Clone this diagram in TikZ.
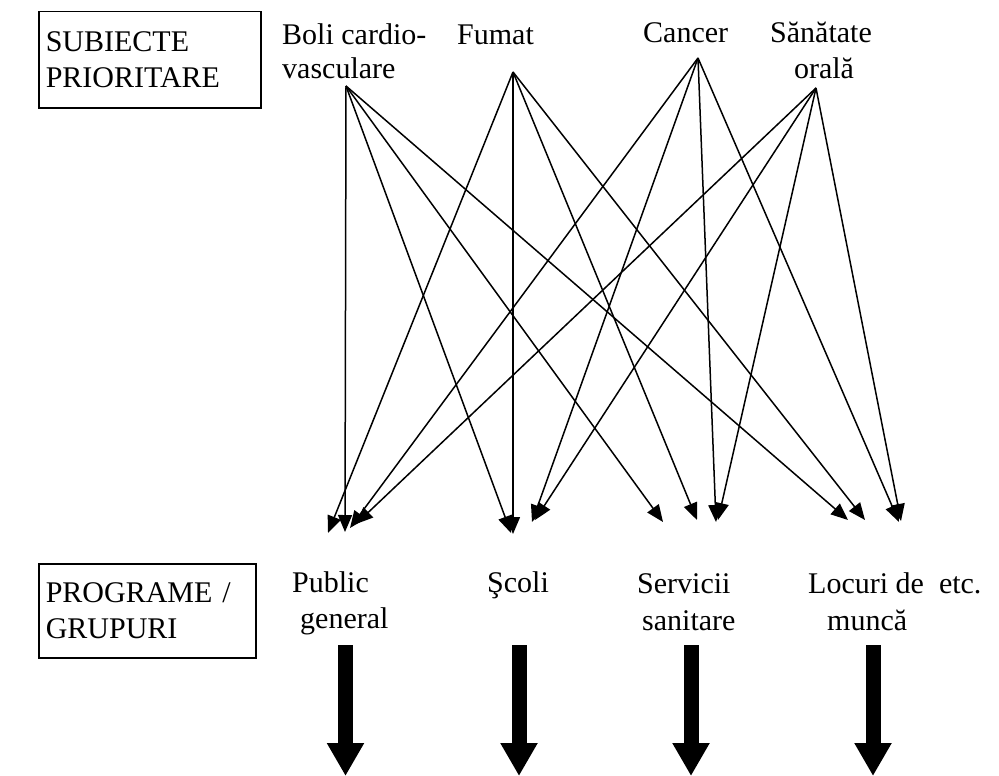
\documentclass[tikz,border=0pt]{standalone}
\usepackage{fontspec}
\setmainfont{Liberation Serif}
\usetikzlibrary{arrows.meta}
\begin{document}
\begin{tikzpicture}[x=1pt,y=-1pt,
  lbl/.style={inner sep=0pt, anchor=base west, font=\fontsize{30}{35}\selectfont},
  lblc/.style={inner sep=0pt, anchor=base, font=\fontsize{30}{35}\selectfont},
  frame/.style={draw, line width=1.5pt, anchor=north west, align=left,
    inner xsep=7pt, inner ysep=0pt, font=\fontsize{30}{36}\selectfont},
  link/.style={line width=1.5pt, -{Triangle[length=17pt,width=14pt]}},
  bigarrow/.style={line width=15pt, -{Triangle[length=33pt,width=35pt]}}]
\useasboundingbox (0,0) rectangle (999,776);

% headings on the left
\node[frame, minimum height=96pt, text width=208pt] (subj) at (38,11) {SUBIECTE\\PRIORITARE};
\node[frame, minimum height=94pt, text width=203pt] (prog) at (38,563) {PROGRAME /\\GRUPURI};

% priority topics
\node[lbl] (boli1) at (282,45) {Boli cardio-};
\node[lbl] (boli2) at (282,79) {vasculare};
\node[lbl] (fumat) at (457,45) {Fumat};
\node[lbl] (cancer) at (643,43) {Cancer};
\node[lblc] (san1) at (821,43) {Sănătate};
\node[lblc] (san2) at (824,78) {orală};

% programmes / groups
\node[lbl] (pub1) at (292,592) {Public};
\node[lbl] (pub2) at (300,628) {general};
\node[lbl] (scoli) at (487,592) {Şcoli};
\node[lbl] (serv1) at (637,593) {Servicii};
\node[lbl] (serv2) at (642,630) {sanitare};
\node[lbl] (loc1) at (808,593) {Locuri de\ \ etc.};
\node[lbl] (loc2) at (827,630) {muncă};

% where the links start
\coordinate (sB) at (346,86);
\coordinate (sF) at (513,72);
\coordinate (sC) at (698,58);
\coordinate (sS) at (816,88);

% where the links end
\coordinate (pubB) at (345,532);
\coordinate (pubF) at (328,533);
\coordinate (pubC) at (350,528);
\coordinate (pubS) at (356,524);
\coordinate (scoB) at (511,533);
\coordinate (scoF) at (513,534);
\coordinate (scoC) at (532,522);
\coordinate (scoS) at (535,520);
\coordinate (serB) at (663,522);
\coordinate (serF) at (697,520);
\coordinate (serC) at (716,522);
\coordinate (serS) at (718,520);
\coordinate (locB) at (848,520);
\coordinate (locF) at (865,520);
\coordinate (locC) at (899,522);
\coordinate (locS) at (901,521);

\foreach \s in {B,F,C,S}
  \foreach \t in {pub,sco,ser,loc}
    \draw[link] (s\s) -- (\t\s);

% outgoing block arrows
\coordinate (pubTop) at (345.5,645);
\coordinate (pubEnd) at (345.5,776);
\coordinate (scoTop) at (519,645);
\coordinate (scoEnd) at (519,776);
\coordinate (serTop) at (691,645);
\coordinate (serEnd) at (691,776);
\coordinate (locTop) at (873,645);
\coordinate (locEnd) at (873,776);
\foreach \t in {pub,sco,ser,loc}
  \draw[bigarrow] (\t Top) -- (\t End);
\end{tikzpicture}
\end{document}
